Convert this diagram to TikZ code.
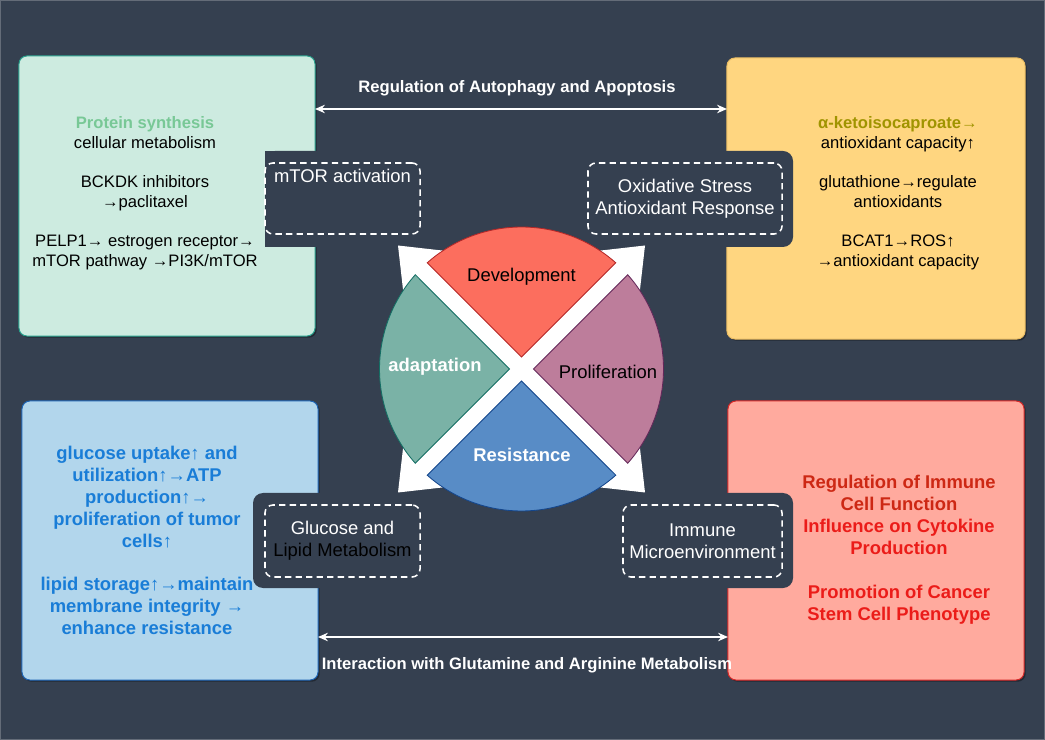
\documentclass[tikz,border=0pt]{standalone}
\usepackage{fontspec}
\setmainfont{Liberation Sans}
\usetikzlibrary{arrows.meta,positioning,shadows}
\definecolor{fond}{RGB}{53,64,80}
\definecolor{cadre}{RGB}{100,108,120}
\definecolor{menthe}{RGB}{205,235,224}
\definecolor{menthebord}{RGB}{40,160,140}
\definecolor{jaune}{RGB}{255,214,128}
\definecolor{jaunebord}{RGB}{235,190,100}
\definecolor{bleu}{RGB}{178,214,236}
\definecolor{bleubord}{RGB}{30,100,180}
\definecolor{saumon}{RGB}{255,170,158}
\definecolor{saumonbord}{RGB}{215,40,40}
\definecolor{vertp}{RGB}{120,200,150}
\definecolor{olivetexte}{RGB}{160,148,0}
\definecolor{bleutexte}{RGB}{25,125,215}
\definecolor{rougeun}{RGB}{205,40,20}
\definecolor{rougedeux}{RGB}{235,28,25}
\definecolor{dev}{RGB}{252,110,94}
\definecolor{devbord}{RGB}{180,40,40}
\definecolor{adap}{RGB}{122,178,166}
\definecolor{adapbord}{RGB}{20,110,100}
\definecolor{prol}{RGB}{189,125,155}
\definecolor{prolbord}{RGB}{100,40,90}
\definecolor{resi}{RGB}{88,140,198}
\definecolor{resibord}{RGB}{20,70,140}
\begin{document}
\begin{tikzpicture}[x=0.025cm,y=-0.025cm]
\tikzset{boite/.style={draw, line width=0.7pt, rounded corners=2mm, inner sep=0pt, outer sep=0pt, drop shadow={shadow xshift=1.2pt, shadow yshift=-1.2pt, fill=black, opacity=0.35}}}
\tikzset{pointille/.style={draw=white, dash pattern=on 4.5pt off 3pt, line width=1.1pt, rounded corners=2mm, inner sep=0pt, text=white}}
\tikzset{petit/.style={font=\fontsize{11.8}{14.2}\selectfont, align=center, inner sep=0pt}}
\tikzset{petitgras/.style={font=\fontsize{11.8}{14.2}\selectfont\bfseries, align=center, inner sep=0pt}}
\tikzset{grand/.style={font=\fontsize{13.1}{15.6}\selectfont, align=center, inner sep=0pt}}
\tikzset{grandgras/.style={font=\fontsize{13.1}{15.6}\selectfont\bfseries, align=center, inner sep=0pt}}
\tikzset{fleche/.style={draw=white, line width=1.2pt, {Stealth[length=7pt,width=6pt]}-{Stealth[length=7pt,width=6pt]}}}
\useasboundingbox (0,0) rectangle (1045,740);
\fill[fond] (0,0) rectangle (1045,740);
\draw[cadre, line width=0.8pt] (0.5,0.5) rectangle (1044.5,739.5);
\node[boite, fill=menthe, draw=menthebord, minimum width=7.4cm, minimum height=7cm] (B1) at (167,196) {};
\node[boite, fill=jaune, draw=jaunebord, minimum width=7.45cm, minimum height=7.025cm] (B2) at (876,198.5) {};
\node[boite, fill=bleu, draw=bleubord, minimum width=7.4cm, minimum height=6.975cm] (B3) at (170,540.5) {};
\node[boite, fill=saumon, draw=saumonbord, minimum width=7.4cm, minimum height=6.975cm] (B4) at (876,540.5) {};
\fill[fond, rounded corners=2.5mm] (265,151) rectangle (432,247);
\fill[fond] (265,151) rectangle (290,247);
\fill[fond, rounded corners=2.5mm] (576,151) rectangle (793,247);
\fill[fond, rounded corners=2.5mm] (253,493) rectangle (432,588);
\fill[fond, rounded corners=2.5mm] (611,493) rectangle (793,588);
\node[pointille, minimum width=3.875cm, minimum height=1.775cm] (D1) at (342.5,198.5) {};
\node[grand, text=white, below=1.75mm of D1.north] (L1) {mTOR activation};
\node[pointille, grand, minimum width=4.85cm, minimum height=1.775cm] (D2) at (685,198.5) {Oxidative Stress\\Antioxidant Response};
\node[pointille, grand, minimum width=3.875cm, minimum height=1.8cm] (D3) at (342.5,541) {Glucose and\\\textcolor{black}{Lipid Metabolism}};
\node[pointille, grand, minimum width=3.975cm, minimum height=1.8cm] (D4) at (702.5,541) {Immune\\Microenvironment};
\node[petit] (T1) at (145,193) {\textcolor{vertp}{\bfseries Protein synthesis}\\cellular metabolism\\[13.5pt]BCKDK inhibitors\\→paclitaxel\\[13.5pt]PELP1→ estrogen receptor→\\mTOR pathway →PI3K/mTOR};
\node[petit] (T2) at (898,193.5) {\textcolor{olivetexte}{\bfseries α-ketoisocaproate→}\\antioxidant capacity↑\\[13.5pt]glutathione→regulate\\antioxidants\\[13.5pt]BCAT1→ROS↑\\→antioxidant capacity};
\node[grandgras, text=bleutexte] (T3) at (147,540.5) {glucose uptake↑ and\\utilization↑→ATP\\production↑→\\proliferation of tumor\\cells↑\\[15.6pt]lipid storage↑→maintain\\membrane integrity →\\enhance resistance};
\node[grandgras, text=rougedeux] (T4) at (899,550) {\textcolor{rougeun}{Regulation of Immune}\\\textcolor{rougeun}{Cell Function}\\Influence on Cytokine\\Production\\[15.6pt]Promotion of Cancer\\Stem Cell Phenotype};
\begin{scope}[shift={(521.5,369)}]
\draw[white, line width=17pt] (-80,-80) -- (80,80);
\draw[white, line width=17pt] (-80,80) -- (80,-80);
\foreach \sx/\sy in {-1/-1,1/-1,-1/1,1/1}
  \fill[white] ({123.5*(\sx)},{123.5*(\sy)}) -- ({113.4*(\sx)},{34.6*(\sy)}) -- ({34.6*(\sx)},{113.4*(\sy)}) -- cycle;
\foreach \b/\c/\d in {270/dev/devbord,180/adap/adapbord,0/prol/prolbord,90/resi/resibord}
  \filldraw[fill=\c, draw=\d, line width=0.6pt] (\b:12) -- ({\b-41.6}:142) arc[start angle={\b-41.6}, end angle={\b+41.6}, radius=142] -- cycle;
\node[grand] (S1) at (0,-92) {Development};
\node[grandgras, text=white] (S2) at (-86.5,-2) {adaptation};
\node[grand] (S3) at (86.5,3) {Proliferation};
\node[grandgras, text=white] (S4) at (0.5,86) {Resistance};
\end{scope}
\coordinate (A1) at (517,109);
\coordinate (A2) at (522,637);
\draw[fleche] (B1.east |- A1) -- (B2.west |- A1);
\draw[fleche] (B3.east |- A2) -- (B4.west |- A2);
\node[petitgras, text=white] (L2) at (517,88) {Regulation of Autophagy and Apoptosis};
\node[petitgras, text=white] (L3) at (527,665) {Interaction with Glutamine and Arginine Metabolism};
\end{tikzpicture}
\end{document}
